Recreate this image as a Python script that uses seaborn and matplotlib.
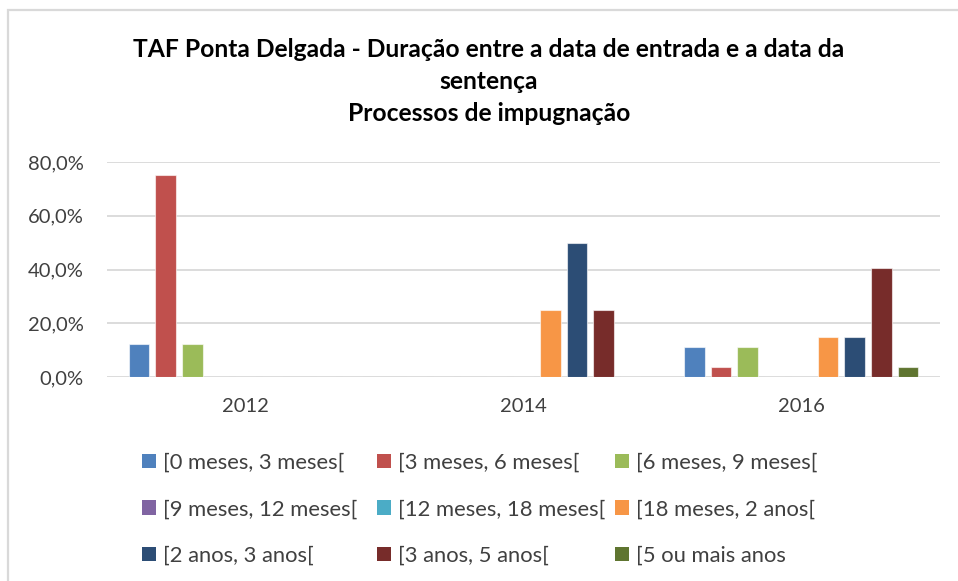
import matplotlib
matplotlib.use("Agg")
import matplotlib.pyplot as plt
from matplotlib.patches import Patch, Rectangle
from matplotlib.ticker import FuncFormatter, MultipleLocator
import seaborn as sns
import pandas as pd

# Data: share of cases (%) by duration bracket and year
years = ["2012", "2014", "2016"]
brackets = [
    "[0 meses, 3 meses[",
    "[3 meses, 6 meses[",
    "[6 meses, 9 meses[",
    "[9 meses, 12 meses[",
    "[12 meses, 18 meses[",
    "[18 meses, 2 anos[",
    "[2 anos, 3 anos[",
    "[3 anos, 5 anos[",
    "[5 ou mais anos",
]
values_2012 = [12.5, 75.0, 12.5, 0.0, 0.0, 0.0, 0.0, 0.0, 0.0]
values_2014 = [0.0, 0.0, 0.0, 0.0, 0.0, 25.0, 50.0, 25.0, 0.0]
values_2016 = [11.1, 3.7, 11.1, 0.0, 0.0, 14.8, 14.8, 40.7, 3.7]
colors = ["#4F81BD", "#C0504D", "#9BBB59", "#8064A2", "#4BACC6",
          "#F79646", "#2C4D75", "#772C2A", "#5F7530"]
title = ("TAF Ponta Delgada - Duração entre a data de entrada e a data da\n"
         "sentença\nProcessos de impugnação")

rows = []
for year, vals in zip(years, [values_2012, values_2014, values_2016]):
    for b, v in zip(brackets, vals):
        rows.append({"ano": year, "duracao": b, "pct": v})
df = pd.DataFrame(rows)

sns.set_theme(style="white")
plt.rcParams["font.family"] = ["Lato", "DejaVu Sans"]
text_color = "#404040"

fig = plt.figure(figsize=(9.58, 5.81), dpi=100)
W, H = 958, 581
ax = fig.add_axes([107 / W, 1 - 377.3 / H, (940 - 107) / W, (377.3 - 162) / H])

sns.barplot(data=df, x="ano", y="pct", hue="duracao", order=years,
            hue_order=brackets, palette=colors, saturation=1,
            width=0.865, gap=0.225, edgecolor=(1, 1, 1, 0.6), linewidth=0.8,
            legend=False, ax=ax)

ax.set_ylim(0, 80)
ax.set_xlim(-0.5, 2.5)
ax.yaxis.set_major_locator(MultipleLocator(20))
ax.yaxis.set_major_formatter(FuncFormatter(lambda v, p: f"{v:.1f}%".replace(".", ",")))
ax.grid(axis="y", color="#d9d9d9", linewidth=1.3)
ax.set_axisbelow(True)
for s in ax.spines.values():
    s.set_visible(False)
ax.set_xlabel("")
ax.set_ylabel("")
ax.tick_params(axis="y", length=0, pad=17, labelsize=14.5, labelcolor=text_color)
ax.tick_params(axis="x", length=0, pad=15, labelsize=14.5, labelcolor=text_color)

# Title
fig.text(489 / W, 1 - 38 / H, title, ha="center", va="top", fontsize=17.7,
         fontweight="bold", color="black", linespacing=1.48)

# Legend laid out as a 3x3 grid (row-major order)
col_x = [142 / W, 377 / W, 615 / W]
for c in range(3):
    idx = [c, c + 3, c + 6]
    handles = [Patch(facecolor=colors[i], edgecolor="none") for i in idx]
    labels = [brackets[i] for i in idx]
    fig.legend(handles, labels, loc="upper left",
               bbox_to_anchor=(col_x[c], 1 - 453 / H), frameon=False,
               fontsize=15.8, labelcolor=text_color, handlelength=0.62,
               handleheight=0.62, handletextpad=0.32, labelspacing=1.2,
               borderaxespad=0, borderpad=0)

# Chart area border
fig.patches.append(Rectangle((8 / W, -0.05), 1.2, 1 - 10 / H + 0.05,
                             transform=fig.transFigure, fill=False,
                             edgecolor="#d9d9d9", linewidth=1.6))

fig.savefig("out.png", dpi=100)
